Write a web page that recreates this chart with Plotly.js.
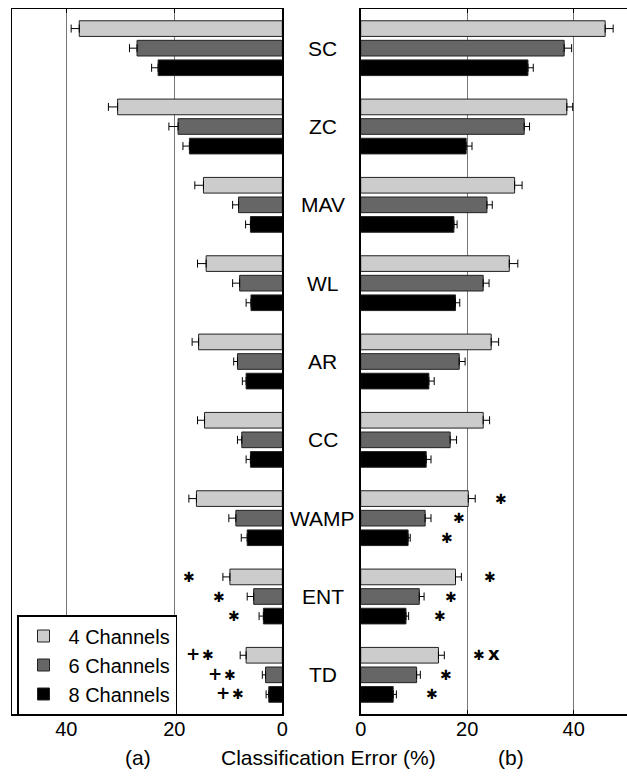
<!DOCTYPE html>
<html>
<head>
<meta charset="utf-8">
<script src="https://cdn.plot.ly/plotly-3.0.1.min.js"></script>
<style>html,body{margin:0;padding:0;background:#fff;}#chart{width:627px;height:777px;}</style>
</head>
<body>
<div id="chart"></div>
<script>
// ---------- data ----------
const categories = ['SC','ZC','MAV','WL','AR','CC','WAMP','ENT','TD'];
const seriesNames = ['4 Channels','6 Channels','8 Channels'];
const seriesColors = ['#cccccc','#666666','#000000'];

// panel (a)
const a4 = [37.6,30.5,14.6,14.1,15.5,14.4,15.9,9.7,6.7];
const a4err = [1.5,1.7,1.6,1.6,1.2,1.3,1.4,1.3,1.1];
const a6 = [26.9,19.3,8.1,7.9,8.3,7.5,8.6,5.3,3.1];
const a6err = [1.4,1.7,1.1,1.3,0.7,0.8,1.3,1.2,0.6];
const a8 = [23.0,17.2,5.9,5.8,6.7,5.9,6.5,3.5,2.5];
const a8err = [1.2,1.2,0.9,0.9,0.7,0.8,1.1,0.8,0.5];

// panel (b)
const b4 = [45.9,38.7,28.9,27.9,24.5,23.0,20.2,17.8,14.6];
const b4err = [1.5,1.1,1.4,1.6,1.4,1.2,1.3,1.1,1.1];
const b6 = [38.2,30.7,23.7,23.0,18.5,16.8,12.1,11.0,10.5];
const b6err = [1.4,1.0,1.0,1.1,1.1,1.2,1.1,0.9,0.7];
const b8 = [31.4,19.8,17.5,17.8,12.8,12.3,8.9,8.5,6.1];
const b8err = [1.0,1.1,0.6,0.8,1.0,0.9,0.4,0.5,0.6];

// significance marks
const sigACat = ['ENT','ENT','ENT','TD','TD','TD'];
const sigASeries = [0,1,2,0,1,2];
const sigAX = [17.2,11.7,8.9,15.2,11.1,9.6];
const sigAText = ['*','*','*','+*','+*','+*'];

const sigBCat = ['WAMP','WAMP','WAMP','ENT','ENT','ENT','TD','TD','TD'];
const sigBSeries = [0,1,2,0,1,2,0,1,2];
const sigBX = [26.3,18.4,16.2,24.3,17.0,14.8,23.7,16.1,13.4];
const sigBText = ['*','*','*','*','*','*','*x','*','*'];

const xTicks = [0,20,40];
const panelLabels = ['(a)','(b)'];
const xTitle = 'Classification Error (%)';

// ---------- build ----------
const FONT = 'Liberation Sans, Arial, Helvetica, sans-serif';
const MARKFONT = 'DejaVu Sans, sans-serif';

function barTrace(vals, errs, idx, xa, ya, showleg) {
  return {
    type: 'bar', orientation: 'h', y: categories, x: vals,
    name: seriesNames[idx], xaxis: xa, yaxis: ya,
    marker: {color: seriesColors[idx], line: {color: '#222', width: 1}},
    error_x: {type: 'data', symmetric: false, array: errs, arrayminus: errs.map(() => 0),
              color: '#000', thickness: 1, width: 4},
    showlegend: showleg, legendgroup: 'g' + idx, hoverinfo: 'skip'
  };
}

const data = [
  barTrace(a4, a4err, 0, 'x', 'y', true),
  barTrace(a6, a6err, 1, 'x', 'y', true),
  barTrace(a8, a8err, 2, 'x', 'y', true),
  barTrace(b4, b4err, 0, 'x2', 'y2', false),
  barTrace(b6, b6err, 1, 'x2', 'y2', false),
  barTrace(b8, b8err, 2, 'x2', 'y2', false)
];

const yRange = [categories.length - 0.5, -0.5];
const annotations = [];

// category labels in the middle
categories.forEach((c, i) => {
  annotations.push({text: c, xref: 'paper', yref: 'y', x: 0.515, y: i,
    xanchor: 'center', yanchor: 'middle', showarrow: false,
    font: {family: FONT, size: 21, color: '#000'}});
});

// significance marks (one small annotation per glyph)
const groupOffset = [-0.25, 0, 0.25];
const glyphMap = {'*': '\u2731', '+': '+', 'x': 'x'};
const glyphSize = {'*': 14, '+': 17, 'x': 18};
const glyphShift = {'*': 0, '+': 1, 'x': 2};
function addSig(cats, ser, xs, texts, xa, ya) {
  cats.forEach((c, k) => {
    const yi = categories.indexOf(c) + groupOffset[ser[k]];
    const chars = texts[k].split('');
    const n = chars.length;
    chars.forEach((ch, j) => {
      const shift = (j - (n - 1) / 2) * 15;
      annotations.push({text: glyphMap[ch], xref: xa, yref: ya, x: xs[k], y: yi,
        xanchor: 'center', yanchor: 'middle', showarrow: false, borderpad: 0,
        xshift: shift, yshift: glyphShift[ch],
        font: {family: MARKFONT, size: glyphSize[ch], color: '#000', weight: 'bold'}});
    });
  });
}
addSig(sigACat, sigASeries, sigAX, sigAText, 'x', 'y');
addSig(sigBCat, sigBSeries, sigBX, sigBText, 'x2', 'y2');

// bottom labels
const bottomFont = {family: FONT, size: 21, color: '#000'};
annotations.push({text: panelLabels[0], xref: 'paper', yref: 'paper', x: 138/627, y: -0.061,
  xanchor: 'center', yanchor: 'middle', showarrow: false, font: bottomFont});
annotations.push({text: xTitle, xref: 'paper', yref: 'paper', x: 328/627, y: -0.061,
  xanchor: 'center', yanchor: 'middle', showarrow: false, font: bottomFont});
annotations.push({text: panelLabels[1], xref: 'paper', yref: 'paper', x: 511/627, y: -0.061,
  xanchor: 'center', yanchor: 'middle', showarrow: false, font: bottomFont});

const xCommon = {
  tickvals: xTicks, ticktext: xTicks.map(String),
  showgrid: true, gridcolor: '#777', gridwidth: 1,
  zeroline: false, showline: true, linecolor: '#000', linewidth: 1.5,
  mirror: 'ticks', ticks: 'inside', ticklen: 4, tickcolor: '#000',
  ticklabelstandoff: -4,
  tickfont: {family: FONT, size: 20, color: '#000'}
};

const layout = {
  width: 627, height: 777,
  margin: {l: 0, r: 0, t: 9, b: 63, pad: 0},
  paper_bgcolor: '#fff', plot_bgcolor: '#fff',
  barmode: 'group', bargap: 0.25, bargroupgap: 0.2,
  showlegend: true,
  legend: {x: 17/627, y: (714 - 615) / 705, xanchor: 'left', yanchor: 'top',
    bgcolor: '#fff', bordercolor: '#000', borderwidth: 1.5,
    traceorder: 'normal', itemwidth: 40,
    font: {family: FONT, size: 20, color: '#000'}},
  xaxis: Object.assign({}, xCommon, {domain: [12.3/627, 282.3/627], range: [50, 0], anchor: 'y'}),
  xaxis2: Object.assign({}, xCommon, {domain: [360.7/627, 1], range: [0, 50], anchor: 'y2'}),
  yaxis: {type: 'category', categoryorder: 'array', categoryarray: categories,
    range: yRange, anchor: 'x', showline: true, linecolor: '#000', linewidth: 1.5, mirror: true,
    ticks: '', showticklabels: false, showgrid: false, zeroline: false},
  yaxis2: {type: 'category', categoryorder: 'array', categoryarray: categories,
    range: yRange, anchor: 'x2', showline: true, linecolor: '#000', linewidth: 1.5, mirror: false,
    ticks: '', showticklabels: false, showgrid: false, zeroline: false},
  yaxis3: {overlaying: 'y2', anchor: 'x2', side: 'right', range: yRange,
    tickvals: categories.map((c, i) => i), ticks: 'inside', ticklen: 6, tickcolor: '#000',
    showticklabels: false, showline: false, showgrid: false, zeroline: false},
  annotations: annotations
};

Plotly.newPlot('chart', data, layout, {staticPlot: true, displayModeBar: false});
</script>
</body>
</html>
